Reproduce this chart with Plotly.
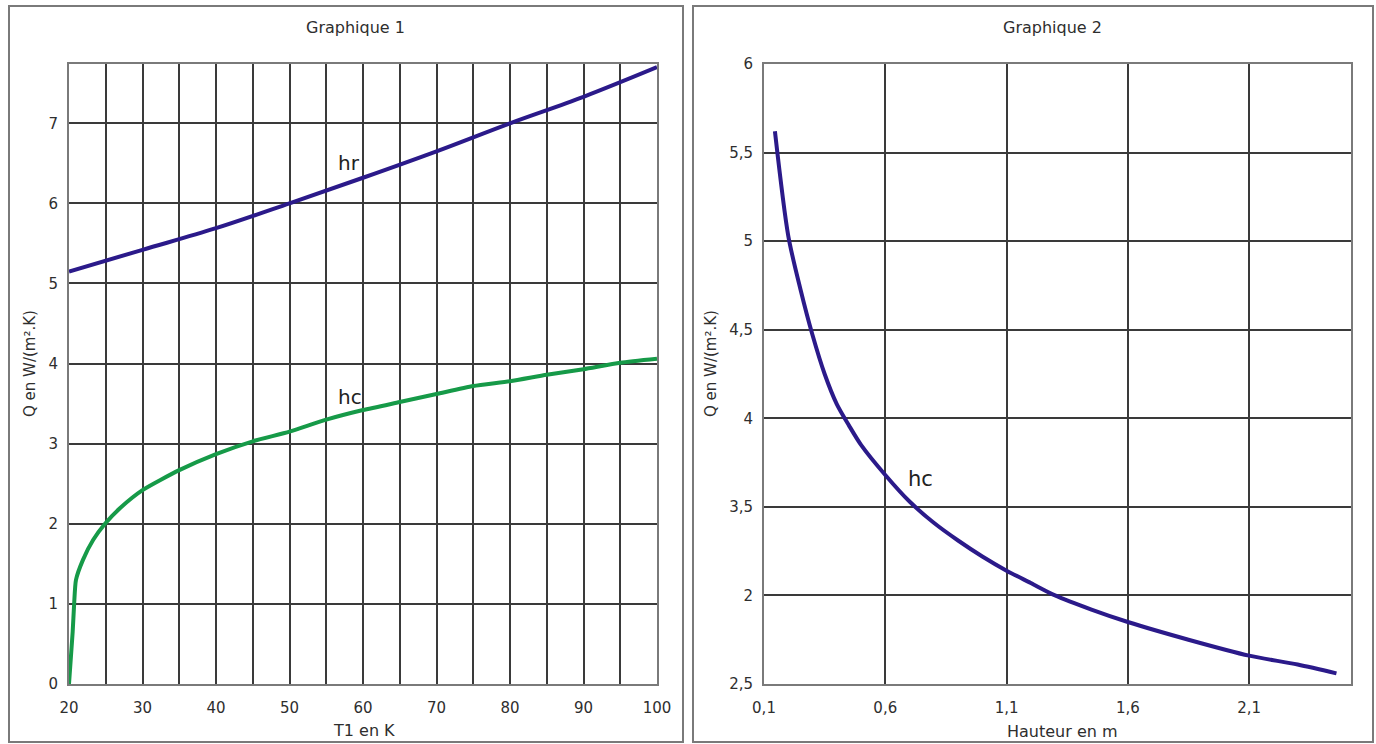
import plotly.graph_objects as go

W, H = 1376, 744

# ---- Data: Graphique 1 ----
t1 = [20, 20.5, 20.7, 20.95, 21.9, 23.3, 24.9, 27, 30, 35, 40, 45, 50, 55, 60, 65, 70, 75, 80, 85, 90, 95, 100]
hc1 = [0, 0.65, 1.0, 1.3, 1.55, 1.8, 2.0, 2.2, 2.42, 2.67, 2.87, 3.03, 3.15, 3.3, 3.42, 3.52, 3.62, 3.72, 3.78, 3.86, 3.93, 4.01, 4.06]
t1_hr = [20, 30, 40, 50, 60, 70, 80, 90, 100]
hr = [5.15, 5.42, 5.69, 6.0, 6.32, 6.65, 7.0, 7.33, 7.70]
x1_ticks = [20, 30, 40, 50, 60, 70, 80, 90, 100]
y1_ticks = [0, 1, 2, 3, 4, 5, 6, 7]

# ---- Data: Graphique 2 ----
hauteur = [0.145, 0.2, 0.25, 0.3, 0.35, 0.4, 0.45, 0.5, 0.6, 0.7, 0.8, 0.9, 1.0, 1.1, 1.2, 1.3, 1.45, 1.6, 1.85, 2.1, 2.3, 2.46]
hc2 = [5.62, 5.03, 4.73, 4.47, 4.25, 4.08, 3.96, 3.85, 3.68, 3.53, 3.41, 3.31, 3.22, 3.14, 3.07, 3.0, 2.92, 2.85, 2.75, 2.66, 2.61, 2.56]
x2_vals = [0.1, 0.6, 1.1, 1.6, 2.1]
x2_text = ["0,1", "0,6", "1,1", "1,6", "2,1"]
y2_vals = [2.5, 3, 3.5, 4, 4.5, 5, 5.5, 6]
y2_text = ["2,5", "2", "3,5", "4", "4,5", "5", "5,5", "6"]

NAVY = "#2b1a8a"
GREEN = "#169a48"
GRID = "#3a3a3a"
FRAME = "#7a7a7a"
TXT = "#2e2e2e"
FONT = "DejaVu Sans"

def px(x):
    return x / W

def py(y):
    return 1 - y / H

fig = go.Figure()
fig.add_trace(go.Scatter(x=t1_hr, y=hr, mode="lines", line=dict(color=NAVY, width=4, shape="spline"),
                         xaxis="x", yaxis="y", showlegend=False))
fig.add_trace(go.Scatter(x=t1, y=hc1, mode="lines", line=dict(color=GREEN, width=4, shape="spline", smoothing=0.6),
                         xaxis="x", yaxis="y", showlegend=False))
fig.add_trace(go.Scatter(x=hauteur, y=hc2, mode="lines", line=dict(color=NAVY, width=4, shape="spline", smoothing=0.8),
                         xaxis="x2", yaxis="y2", showlegend=False))

axis_common = dict(showgrid=True, gridcolor=GRID, gridwidth=1.5, zeroline=False, automargin=False,
                   showline=True, linecolor=FRAME, linewidth=2, mirror=True,
                   ticks="", tickfont=dict(family=FONT, size=15, color=TXT))

def label(text, x, y, size=16, angle=0):
    return dict(text=text, x=px(x), y=py(y), xref="paper", yref="paper", showarrow=False,
                xanchor="center", yanchor="middle", textangle=angle,
                font=dict(family=FONT, size=size, color=TXT))

fig.update_layout(
    width=W, height=H, margin=dict(l=0, r=0, t=0, b=0, autoexpand=False),
    paper_bgcolor="white", plot_bgcolor="white",
    xaxis=dict(domain=[px(69), px(657)], range=[20, 100], tickvals=x1_ticks,
               minor=dict(dtick=5, showgrid=True, gridcolor=GRID, gridwidth=1.5),
               anchor="y", ticklabelstandoff=9, **axis_common),
    yaxis=dict(domain=[py(684), py(64)], range=[0, 7.74], tickvals=y1_ticks,
               anchor="x", ticklabelstandoff=6, **axis_common),
    xaxis2=dict(domain=[px(764), px(1351)], range=[0.1, 2.52], tickvals=x2_vals, ticktext=x2_text,
                anchor="y2", ticklabelstandoff=9, **axis_common),
    yaxis2=dict(domain=[py(684), py(64)], range=[2.5, 6], tickvals=y2_vals, ticktext=y2_text,
                anchor="x2", ticklabelstandoff=6, **axis_common),
    shapes=[
        dict(type="rect", xref="paper", yref="paper", x0=px(9), x1=px(683), y0=py(742), y1=py(6),
             line=dict(color=FRAME, width=2)),
        dict(type="rect", xref="paper", yref="paper", x0=px(693), x1=px(1373), y0=py(742), y1=py(6),
             line=dict(color=FRAME, width=2)),
    ],
    annotations=[
        label("Graphique 1", 355, 28),
        label("Graphique 2", 1052, 28),
        label("T1 en K", 364, 730),
        label("Hauteur en m", 1062, 731),
        label("Q en W/(m².K)", 30, 364, size=15, angle=-90),
        label("Q en W/(m².K)", 711, 364, size=15, angle=-90),
        dict(text="hr", x=58.1, y=6.5, xref="x", yref="y", showarrow=False,
             font=dict(family=FONT, size=20, color="#222222")),
        dict(text="hc", x=58.2, y=3.58, xref="x", yref="y", showarrow=False,
             font=dict(family=FONT, size=20, color="#222222")),
        dict(text="hc", x=0.747, y=3.66, xref="x2", yref="y2", showarrow=False,
             font=dict(family=FONT, size=21, color="#222222")),
    ],
)

fig.write_html("out.html")
